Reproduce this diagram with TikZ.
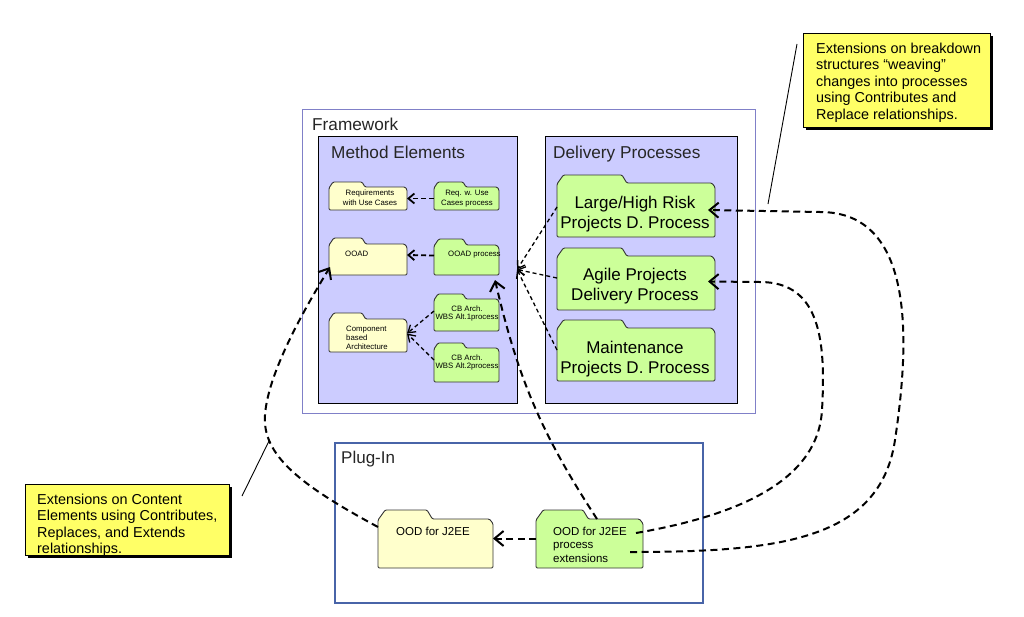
\documentclass[tikz,border=0pt]{standalone}
\usepackage{fontspec}
\setmainfont{Liberation Sans}
\usetikzlibrary{arrows.meta,calc}
\definecolor{lav}{RGB}{204,204,255}
\definecolor{fyel}{RGB}{255,255,204}
\definecolor{fgrn}{RGB}{204,255,153}
\definecolor{cyel}{RGB}{255,255,102}
\definecolor{fwline}{RGB}{128,128,200}
\definecolor{plline}{RGB}{72,100,168}
\tikzset{
  fline/.style={draw=black!80, line width=0.9pt, line join=round},
  fbody/.style={draw=none, inner sep=0pt, outer sep=0pt, rectangle},
  fwbox/.style={draw=fwline, line width=0.8pt, inner sep=0pt, outer sep=0pt, anchor=north west},
  plbox/.style={draw=plline, line width=1.8pt, inner sep=0pt, outer sep=0pt, anchor=north west},
  panel/.style={draw=black, line width=0.9pt, fill=lav, inner sep=0pt, outer sep=0pt, anchor=north west},
  ttl/.style={font=\fontsize{17.2}{20}\selectfont, anchor=base west, inner sep=0pt, text=black!85},
  smalltxt/.style={font=\fontsize{7.8}{10}\selectfont, inner sep=0pt},
  bigtxt/.style={font=\fontsize{17}{20}\selectfont, inner sep=0pt, align=center, anchor=north},
  midtxt/.style={font=\fontsize{11.5}{13.5}\selectfont, inner sep=0pt},
  callout/.style={draw=black, line width=0.8pt, fill=cyel, inner sep=0pt, anchor=north west},
  ctext/.style={font=\fontsize{14.4}{16.5}\selectfont, inner sep=0pt, align=left, anchor=north west},
  leader/.style={draw=black, line width=0.9pt},
  thickdash/.style={line width=2pt, dash pattern=on 7pt off 4.5pt, -{Straight Barb[length=9pt,width=15pt,line width=2pt]}},
  shortdash/.style={line width=1.8pt, dash pattern=on 5pt off 3pt, -{Straight Barb[length=6pt,width=10pt,line width=1.8pt]}},
  finedash/.style={line width=1.3pt, dash pattern=on 4pt off 3pt, -{Straight Barb[length=7pt,width=9pt,line width=1.3pt]}},
}
% folder: name, x1, ytab, ybody, x2, y2, tab end x, fill
\newcommand\fldr[8]{%
  \draw[fline, fill=#8, rounded corners=1.2pt]
    (#2,#6) -- (#2,{#4+1}) -- ({#2+(#4-#3)*0.8},#3) -- (#7,#3)
    -- ({#7+(#4-#3)*0.6},#4) -- ({#5-(#4-#3)*0.4},#4) -- (#5,{#4+(#4-#3)*0.5})
    -- (#5,#6) -- cycle;
  \node[fbody, minimum width={(#5-#2)*1pt}, minimum height={(#6-#4)*1pt}] (#1)
    at ({(#2+#5)/2},{(#4+#6)/2}) {};
}
\begin{document}
\begin{tikzpicture}[x=1pt,y=-1pt]
\path[use as bounding box] (0,0) rectangle (1024,616);

% containers
\node[fwbox, minimum width=453pt, minimum height=304pt] (fw) at (302,109) {};
\node[ttl] (fwt) at (312,130) {Framework};
\node[panel, minimum width=199pt, minimum height=267pt] (me) at (318,136) {};
\node[ttl] (met) at (331,158) {Method Elements};
\node[panel, minimum width=192pt, minimum height=267pt] (dp) at (545,136) {};
\node[ttl] (dpt) at (553,158) {Delivery Processes};
\node[plbox, minimum width=368pt, minimum height=160pt] (pl) at (335,443) {};
\node[ttl, font=\fontsize{17}{20}\selectfont] (plt) at (341,463) {Plug-In};

% method element folders
\fldr{req}{329}{182}{187}{407}{210}{362}{fyel}
\fldr{reqp}{434}{182}{187}{499}{210}{463}{fgrn}
\fldr{ooad}{329}{238}{244}{407}{275}{362}{fyel}
\fldr{ooadp}{434}{239}{245}{499}{275}{463}{fgrn}
\fldr{comp}{329}{313}{319}{407}{352}{362}{fyel}
\fldr{cbone}{434}{294}{299}{499}{331}{463}{fgrn}
\fldr{cbtwo}{434}{343}{348}{499}{382}{463}{fgrn}
\node[smalltxt, align=center, anchor=north] (reqt) at (370,189.8) {Requirements\\with Use Cases};
\node[smalltxt, align=center, anchor=north] (reqpt) at (467,189.8) {Req. w. Use\\Cases process};
\node[smalltxt, anchor=base west] (ooadt) at (345,256) {OOAD};
\node[smalltxt, anchor=base west] (ooadpt) at (448,256) {OOAD process};
\node[smalltxt, align=left, anchor=north west, font=\fontsize{7.8}{8.7}\selectfont] (compt) at (346,326.3) {Component\\based\\Architecture};
\node[smalltxt, align=center, anchor=north, font=\fontsize{7.8}{8.7}\selectfont] (cbonet) at (467,305.3) {CB Arch.\\WBS Alt.1process};
\node[smalltxt, align=center, anchor=north, font=\fontsize{7.8}{8.7}\selectfont] (cbtwot) at (467,354.3) {CB Arch.\\WBS Alt.2process};

% delivery process folders
\fldr{large}{557}{175}{183}{715}{237}{622}{fgrn}
\fldr{agile}{557}{248}{256}{715}{310}{622}{fgrn}
\fldr{maint}{557}{320}{328}{715}{381}{622}{fgrn}
\node[bigtxt] (larget) at (635,195.6) {Large/High Risk\\Projects D. Process};
\node[bigtxt] (agilet) at (635,267.6) {Agile Projects\\Delivery Process};
\node[bigtxt] (maintt) at (635,340.8) {Maintenance\\Projects D. Process};

% plug-in folders
\fldr{ood}{378}{510}{519}{493}{568}{427}{fyel}
\fldr{ooe}{536}{510}{519}{643}{568}{583}{fgrn}
\node[midtxt, anchor=base west] (oodt) at (396,535) {OOD for J2EE};
\node[midtxt, align=left, anchor=north west] (ooet) at (553,526.6) {OOD for J2EE\\process\\extensions};

% connectors inside method elements
\draw[shortdash] (reqp.west) -- (req.east);
\draw[shortdash] ([yshift=4.5pt]ooadp.west) -- ([yshift=4.5pt]ooad.east);
\draw[finedash] ([yshift=4pt]cbone.west) -- ([yshift=2pt]comp.east);
\draw[finedash] ([yshift=5pt]cbtwo.west) -- ([yshift=2pt]comp.east);

% delivery processes -> method elements
\draw[finedash] ([yshift=3pt]large.west) -- (me.east);
\draw[finedash] ([yshift=5pt]agile.west) -- (me.east);
\draw[finedash] ([yshift=4.5pt]maint.west) -- (me.east);

% plug-in connectors
\draw[thickdash] ([yshift=5pt]ooe.west) -- ([yshift=5pt]ood.east);
\draw[thickdash] ($(ooe.north west)!0.57!(ooe.north east)$) to[bend left=10] ([xshift=-4pt,yshift=-5pt]ooadp.south east);
\draw[thickdash] ([yshift=-8pt]ood.north west) .. controls (300,485) and (262,455) .. (265,415)
   .. controls (268,370) and (310,300) .. ([xshift=1pt,yshift=8pt]ooad.south west);
\draw[thickdash] ([xshift=-7pt,yshift=10.5pt]ooe.east) .. controls (740,515) and (818,480) .. (822,410)
   .. controls (826,340) and (820,282) .. (760,282) -- ([xshift=-7pt,yshift=1.5pt]agile.east);
\draw[thickdash] ([xshift=-13pt,yshift=-8.5pt]ooe.east) .. controls (780,552) and (880,540) .. (895,440)
   .. controls (910,340) and (915,212) .. (820,212) -- ([xshift=-7pt]large.east);

% callouts
\fill[black] (806,36) rectangle (993,130);
\node[callout, minimum width=187pt, minimum height=94pt] (cr) at (803,33) {};
\node[ctext] (crt) at (816,42.6) {Extensions on breakdown\\structures “weaving”\\changes into processes\\using Contributes and\\Replace relationships.};
\coordinate (lta) at (797,44);
\coordinate (ltb) at (768,204);
\draw[leader] (lta) -- (ltb);

\fill[black] (28,487) rectangle (232,558);
\node[callout, minimum width=204pt, minimum height=71pt] (cl) at (25,484) {};
\node[ctext] (clt) at (37,493.8) {Extensions on Content\\Elements using Contributes,\\Replaces, and Extends\\relationships.};
\coordinate (lba) at (242,496);
\coordinate (lbb) at (269,441);
\draw[leader] (lba) -- (lbb);
\end{tikzpicture}
\end{document}
